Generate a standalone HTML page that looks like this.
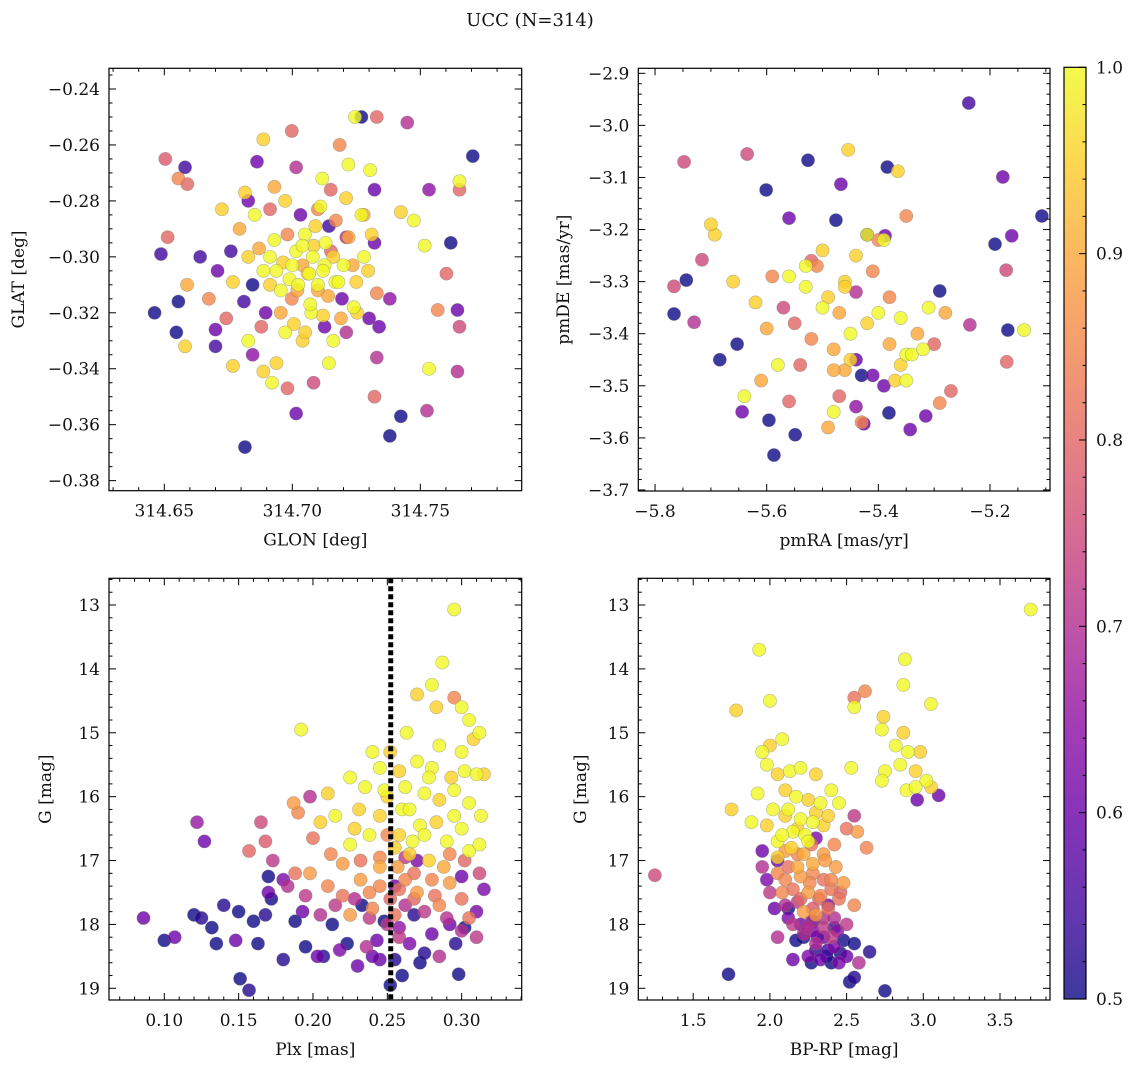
<!DOCTYPE html>
<html><head><meta charset="utf-8"><style>
html,body{margin:0;padding:0;background:#fff;}
svg{display:block;font-family:"DejaVu Serif","Liberation Serif",serif;}
</style></head><body>
<svg id="fig" width="1136" height="1067" viewBox="0 0 1136 1067">
<text x="530" y="26" text-anchor="middle" font-size="18" fill="#111">UCC (N=314)</text>
<defs><linearGradient id="cbg" x1="0" y1="1" x2="0" y2="0">
<stop offset="0" stop-color="#0d0887"/><stop offset="0.1" stop-color="#41049d"/><stop offset="0.2" stop-color="#6a00a8"/><stop offset="0.3" stop-color="#8f0da4"/><stop offset="0.4" stop-color="#b12a90"/><stop offset="0.5" stop-color="#cc4778"/><stop offset="0.6" stop-color="#e16462"/><stop offset="0.7" stop-color="#f2844b"/><stop offset="0.8" stop-color="#fca636"/><stop offset="0.9" stop-color="#fcce25"/><stop offset="1" stop-color="#f0f921"/>
</linearGradient></defs>
</svg>
<script>
// ---- Panel 1: GLON / GLAT ----
const p1Glon=[314.6815,314.6462,314.6487,314.6504,314.6513,314.6555,314.6581,314.6555,314.6590,314.6547,314.6581,314.6700,314.6700,314.6815,314.6862,314.6887,314.6998,314.7245,314.7270,314.7330,314.7449,314.7705,314.7653,314.7653,314.7619,314.7534,314.7568,314.7645,314.7653,314.7645,314.7526,314.7424,314.7381,314.7534,314.7330,314.7321,314.7015,314.6981,314.6921,314.6845,314.6887,314.6768,314.7602,314.7517,314.7475,314.7424,314.7304,314.7321,314.7185,314.7219,
314.6913,314.6938,314.6964,314.6989,314.7015,314.7040,314.6955,314.6998,314.6913,314.6887,314.6870,314.7023,314.7066,314.7083,314.7049,314.6981,314.6930,314.7100,314.7126,314.7151,314.7168,314.7074,314.7006,314.6955,314.6896,314.6845,314.6828,314.6811,314.6768,314.6760,314.6794,314.6853,314.6913,314.6972,314.7032,314.7100,314.7143,314.7211,314.7236,314.7194,314.7253,314.7211,314.7126,314.7040,314.6972,314.6879,314.6828,314.6742,314.6708,314.6674,314.7296,314.7321,314.7279,314.7117,314.7015,314.6930,314.6828,314.6725,314.7143,314.6938,314.7083,314.7381,314.7339,314.6589,314.6640,
314.708,314.712,314.716,314.710,314.714,314.718,314.706,314.704,314.720,314.722,314.713,314.709,314.717,314.725,314.724,314.719,314.712,314.707,314.702,314.700,314.728,314.731,314.727,314.721,314.715,314.711,314.733,314.730,314.705,314.716];
const p1Glat=[-0.368,-0.320,-0.299,-0.265,-0.293,-0.316,-0.268,-0.272,-0.274,-0.327,-0.332,-0.332,-0.326,-0.277,-0.266,-0.258,-0.255,-0.250,-0.250,-0.250,-0.252,-0.264,-0.273,-0.276,-0.295,-0.276,-0.319,-0.319,-0.325,-0.341,-0.355,-0.357,-0.364,-0.340,-0.336,-0.350,-0.356,-0.347,-0.345,-0.335,-0.341,-0.339,-0.306,-0.296,-0.287,-0.284,-0.269,-0.276,-0.260,-0.267,
-0.300,-0.305,-0.302,-0.308,-0.298,-0.303,-0.312,-0.315,-0.310,-0.305,-0.297,-0.310,-0.306,-0.296,-0.292,-0.292,-0.294,-0.312,-0.303,-0.298,-0.309,-0.320,-0.324,-0.320,-0.320,-0.310,-0.300,-0.316,-0.309,-0.298,-0.290,-0.285,-0.283,-0.280,-0.285,-0.283,-0.289,-0.293,-0.303,-0.315,-0.320,-0.327,-0.325,-0.330,-0.327,-0.325,-0.330,-0.322,-0.305,-0.315,-0.305,-0.295,-0.285,-0.272,-0.268,-0.275,-0.280,-0.283,-0.338,-0.338,-0.345,-0.315,-0.325,-0.310,-0.300,
-0.300,-0.305,-0.300,-0.310,-0.314,-0.309,-0.306,-0.296,-0.303,-0.293,-0.295,-0.289,-0.287,-0.309,-0.318,-0.322,-0.321,-0.317,-0.312,-0.303,-0.300,-0.292,-0.285,-0.279,-0.276,-0.282,-0.313,-0.322,-0.327,-0.330];
const p1Prob=[0.5,0.5,0.55,0.78,0.8,0.5,0.55,0.85,0.8,0.5,0.95,0.55,0.6,0.95,0.6,0.95,0.8,1.0,0.5,0.8,0.7,0.5,1.0,0.8,0.5,0.65,0.85,0.6,0.75,0.7,0.7,0.5,0.5,1.0,0.7,0.8,0.6,0.8,1.0,0.65,0.95,0.95,0.8,1.0,1.0,0.95,1.0,0.6,0.85,1.0,
1,1,0.95,1,1,0.9,1,0.85,0.95,1,0.9,1,1,0.95,1,0.85,1,0.9,1,0.8,1,1,0.95,0.9,0.6,0.5,0.95,0.55,0.95,0.55,0.9,1,0.8,0.95,0.6,0.85,0.55,0.7,0.9,0.6,0.95,0.7,0.6,0.95,1,0.8,1,0.8,0.6,0.85,0.95,0.6,0.9,1,0.7,0.9,0.6,0.95,1,0.95,0.75,0.65,0.6,0.9,0.55,
1,1,0.95,1,0.9,1,0.95,1,1,0.9,1,0.95,0.85,0.95,1,0.9,0.95,1,0.9,1,1,0.95,1,0.95,0.8,1,0.85,0.6,0.95,1];

// ---- Panel 2: pmRA / pmDE ----
const p2PmRA=[-5.238,-5.748,-5.766,-5.744,-5.766,-5.730,-5.693,-5.716,-5.635,-5.653,-5.684,-5.587,-5.596,-5.644,-5.549,-5.381,-5.426,-5.343,-5.315,-5.290,-5.177,-5.107,-5.161,-5.171,-5.191,-5.170,-5.168,-5.139,-5.236,-5.290,-5.526,-5.601,-5.384,-5.365,-5.388,-5.467,-5.454,-5.560,-5.476,-5.350,
-5.45,-5.42,-5.48,-5.40,-5.52,-5.44,-5.50,-5.38,-5.46,-5.55,-5.35,-5.43,-5.49,-5.41,-5.58,-5.33,-5.47,-5.53,-5.39,-5.44,-5.51,-5.36,-5.62,-5.30,-5.46,-5.56,-5.42,-5.48,-5.40,-5.60,-5.34,-5.52,-5.37,-5.44,-5.64,-5.28,-5.50,-5.43,-5.57,-5.32,-5.47,-5.39,-5.54,-5.45,-5.41,-5.59,-5.35,-5.49,-5.66,-5.27,-5.53,-5.38,-5.46,-5.61,-5.31,-5.44,-5.48,-5.42,-5.56,-5.36,-5.70,-5.25,-5.51,-5.40,-5.47];
const p2PmDE=[-2.957,-3.070,-3.309,-3.297,-3.362,-3.378,-3.210,-3.258,-3.055,-3.420,-3.450,-3.633,-3.566,-3.550,-3.594,-3.552,-3.573,-3.584,-3.558,-3.318,-3.099,-3.174,-3.212,-3.278,-3.228,-3.454,-3.393,-3.393,-3.383,-3.533,-3.067,-3.124,-3.080,-3.088,-3.212,-3.113,-3.047,-3.178,-3.182,-3.174,
-3.40,-3.38,-3.43,-3.36,-3.41,-3.45,-3.35,-3.42,-3.30,-3.38,-3.44,-3.48,-3.33,-3.28,-3.46,-3.40,-3.52,-3.31,-3.50,-3.25,-3.27,-3.37,-3.34,-3.42,-3.47,-3.29,-3.21,-3.55,-3.22,-3.39,-3.44,-3.26,-3.49,-3.32,-3.52,-3.36,-3.24,-3.57,-3.35,-3.43,-3.36,-3.22,-3.46,-3.45,-3.48,-3.29,-3.49,-3.58,-3.30,-3.51,-3.27,-3.33,-3.31,-3.49,-3.35,-3.54,-3.47,-3.21,-3.53,-3.46,-3.19];
const p2Prob=[0.55,0.75,0.75,0.5,0.5,0.7,0.95,0.75,0.75,0.5,0.5,0.5,0.5,0.6,0.5,0.5,0.6,0.6,0.6,0.5,0.6,0.5,0.6,0.75,0.5,0.8,0.5,1.0,0.7,0.85,0.5,0.5,0.5,0.95,0.6,0.6,0.95,0.6,0.5,0.85,
1,0.95,0.9,1,0.85,0.6,1,0.9,0.95,0.8,1,0.5,0.95,0.85,1,0.9,0.8,1,0.6,0.95,0.85,1,0.95,0.8,0.9,1,0.55,1,0.85,0.9,1,0.8,0.95,0.7,1,0.9,0.95,0.85,0.75,1,0.9,1,0.8,0.95,0.6,0.85,1,0.9,0.95,0.8,1,0.85,0.95,0.9,1,0.65,0.9,1,0.8,0.95,0.95,0.9,1,0.85,0.9];

// ---- Panel 3: Plx / G ----
const p3Plx=[0.295,0.287,0.280,0.270,0.300,0.305,0.312,0.283,0.263,0.252,0.240,0.245,0.258,0.270,0.280,0.293,0.302,0.310,0.315,0.225,0.210,0.192,0.235,0.250,0.262,0.275,0.285,0.295,0.305,0.245,0.260,0.272,0.283,0.300,0.313,0.228,0.215,0.238,0.258,0.290,0.305,0.265,0.225,0.205,0.300,0.285,0.308,0.267,0.278,0.312,
0.187,0.190,0.200,0.212,0.220,0.232,0.245,0.257,0.268,0.280,0.292,0.300,0.285,0.270,0.258,0.245,0.232,0.220,0.210,0.198,0.188,0.165,0.168,0.157,0.240,0.255,0.295,0.225,0.305,0.250,
0.173,0.183,0.195,0.205,0.215,0.228,0.238,0.262,0.275,0.290,0.310,0.300,0.250,0.236,0.258,0.285,0.198,0.122,0.262,
0.127,0.170,0.180,0.193,0.203,0.218,0.230,0.245,0.265,0.280,0.292,0.310,0.086,0.107,0.148,0.270,0.300,0.315,0.255,0.243,
0.100,0.120,0.125,0.132,0.135,0.140,0.150,0.151,0.157,0.160,0.163,0.168,0.172,0.170,0.180,0.188,0.195,0.207,0.213,0.223,0.255,0.260,0.252,0.296,0.298,0.302,0.268,0.248,0.233,0.275,
0.245,0.255,0.262,0.275,0.288,0.295,0.238,0.252,0.268,0.282,0.231,0.248,0.265,0.278,0.292,0.302,0.312,0.258,0.240,0.272];
const p3G=[13.07,13.9,14.25,14.4,14.6,14.8,15.0,14.6,15.0,15.3,15.3,15.55,15.6,15.45,15.55,15.7,15.6,15.65,15.65,15.7,15.95,14.95,15.85,16.0,15.85,15.95,16.05,15.9,16.1,16.3,16.2,16.45,16.4,16.5,16.3,16.5,16.3,16.6,16.6,16.7,16.85,16.9,16.75,16.4,15.3,15.2,15.1,16.7,17.0,16.75,
16.1,16.25,16.65,16.9,17.05,17.0,16.95,17.1,17.2,17.3,17.35,17.6,17.7,17.5,17.45,17.4,17.3,17.55,17.4,17.2,17.2,16.4,16.7,16.85,17.75,17.85,14.45,17.85,17.9,16.6,
17.0,17.4,17.55,17.85,17.7,17.6,17.9,17.7,17.8,17.9,18.2,18.1,18.0,18.35,18.2,18.5,16.0,16.4,16.95,
16.7,17.5,17.3,17.8,18.5,18.4,18.65,18.55,18.3,18.15,18.0,17.8,17.9,18.2,18.25,17.0,17.25,17.45,17.4,18.25,
18.25,17.85,17.9,18.05,18.3,17.7,17.8,18.85,19.03,17.95,18.3,17.85,17.6,17.25,18.55,17.95,18.35,18.5,18.0,18.3,18.55,18.8,18.95,18.3,18.78,18.05,17.85,17.95,17.7,18.45,
17.1,16.8,17.3,16.6,17.1,16.3,17.5,17.6,17.6,17.55,16.2,15.9,16.2,15.7,16.9,17.0,17.2,18.05,18.5,18.6];
const p3Prob=[1,1,1,0.95,1,1,1,0.95,1,0.95,1,1,0.95,1,1,0.95,1,1,0.95,1,0.95,1,1,0.95,1,1,0.95,1,1,0.95,1,1,0.95,1,1,0.95,1,1,0.95,1,1,0.95,1,0.95,1,1,0.95,1,0.95,1,
0.88,0.85,0.82,0.85,0.88,0.82,0.85,0.88,0.82,0.85,0.88,0.82,0.85,0.88,0.82,0.85,0.88,0.82,0.85,0.88,0.82,0.75,0.78,0.8,0.85,0.82,0.85,0.88,0.82,0.85,
0.72,0.7,0.72,0.7,0.72,0.7,0.72,0.7,0.72,0.7,0.72,0.7,0.72,0.7,0.72,0.7,0.7,0.66,0.72,
0.6,0.6,0.62,0.6,0.6,0.62,0.6,0.6,0.62,0.6,0.6,0.62,0.6,0.6,0.6,0.62,0.6,0.62,0.6,0.6,
0.5,0.5,0.52,0.5,0.5,0.52,0.5,0.5,0.52,0.5,0.5,0.52,0.5,0.5,0.52,0.5,0.5,0.52,0.5,0.5,0.52,0.5,0.5,0.52,0.5,0.5,0.52,0.5,0.5,0.52,
0.9,0.95,0.85,1,0.9,1,0.85,0.8,0.8,0.82,0.95,1,1,1,0.85,0.8,0.75,0.65,0.6,0.5];

// ---- Panel 4: BP-RP / G ----
const p4BpRp=[3.70,1.93,2.88,2.87,1.78,2.00,3.05,2.74,2.55,2.73,2.87,2.82,2.90,2.98,2.85,2.75,2.95,3.02,2.89,3.05,2.73,1.95,2.00,2.08,1.98,2.05,2.13,2.20,2.30,2.40,2.53,2.10,1.92,2.17,2.25,2.33,2.02,2.10,2.20,2.28,1.98,2.15,2.23,2.35,1.88,1.75,2.05,2.45,2.38,2.95,
2.55,2.62,2.10,2.18,2.27,2.35,2.42,2.50,2.57,2.63,2.12,2.20,2.28,2.35,2.43,2.05,2.15,2.25,2.33,2.40,2.48,2.55,2.38,2.22,2.08,2.45,2.30,
1.25,2.00,2.10,2.18,2.27,2.35,2.42,2.50,2.22,2.15,2.30,2.40,1.95,2.55,2.05,2.58,
1.95,1.98,2.03,2.12,2.20,2.28,2.35,2.42,2.50,2.45,2.33,2.25,2.15,2.38,2.05,2.96,2.30,3.10,
1.73,2.75,2.55,2.52,2.40,2.30,2.22,2.17,2.37,2.48,2.55,2.65,2.28,2.12,2.42,
2.12,2.18,2.25,2.08,2.30,2.14,2.22,2.28,2.18,2.36,2.10,2.26,2.32,2.40,2.20,2.46,2.28,2.35,2.24,2.44,2.31,2.38,2.27,2.46,2.05];
const p4G=[13.07,13.7,13.85,14.25,14.65,14.5,14.55,14.75,14.6,14.95,15.0,15.2,15.3,15.3,15.5,15.6,15.6,15.75,15.9,15.85,15.75,15.3,15.2,15.1,15.5,15.65,15.6,15.55,15.65,15.9,15.55,15.9,15.95,16.0,16.05,16.1,16.2,16.3,16.35,16.4,16.45,16.55,16.6,16.45,16.4,16.2,16.7,16.1,16.3,15.85,
14.45,14.35,16.85,16.9,16.75,16.9,16.75,16.5,16.55,16.8,17.1,17.25,17.2,17.3,17.1,17.2,17.45,17.5,17.55,17.45,17.35,17.7,17.75,17.8,17.5,17.6,17.85,
17.23,17.5,17.7,17.65,17.95,18.05,17.9,18.0,18.15,18.0,18.3,18.2,17.1,16.3,18.2,18.6,
16.85,17.3,17.75,17.9,18.0,18.1,18.2,18.35,18.5,18.6,18.55,18.5,18.55,17.7,17.0,16.05,16.65,15.98,
18.78,19.04,18.83,18.9,18.6,18.4,18.2,18.25,18.5,18.25,18.3,18.43,17.95,17.75,18.05,
16.2,16.5,16.7,16.6,16.25,16.8,16.9,17.05,17.1,17.0,17.3,17.35,17.6,17.3,17.6,17.5,17.75,17.9,18.05,18.1,18.2,18.4,18.6,18.45,16.95];
const p4Prob=[1,1,1,1,0.95,1,1,0.95,1,1,0.95,1,1,0.95,1,1,0.95,1,1,0.95,1,1,0.95,1,1,0.95,1,1,0.95,1,1,0.95,1,1,0.95,1,1,0.95,1,1,0.95,1,1,0.95,1,0.95,1,1,0.95,1,
0.82,0.85,0.88,0.85,0.82,0.88,0.85,0.82,0.88,0.85,0.82,0.88,0.85,0.82,0.88,0.85,0.82,0.88,0.85,0.82,0.88,0.85,0.82,0.88,0.85,0.82,0.88,
0.75,0.72,0.7,0.72,0.7,0.72,0.7,0.72,0.7,0.72,0.7,0.72,0.7,0.72,0.7,0.7,
0.6,0.62,0.6,0.62,0.6,0.62,0.6,0.62,0.6,0.62,0.6,0.62,0.6,0.62,0.6,0.6,0.62,0.6,
0.5,0.5,0.52,0.5,0.5,0.52,0.5,0.5,0.52,0.5,0.5,0.52,0.5,0.5,0.52,
1,0.95,1,1,0.95,0.95,0.9,0.9,0.9,0.88,0.85,0.85,0.8,0.85,0.8,0.8,0.78,0.7,0.7,0.65,0.6,0.55,0.5,0.5,0.95];

const plxCut=[0.2523];
const cbTicks=[0.5,0.6,0.7,0.8,0.9,1.0];

const NS='http://www.w3.org/2000/svg';
const svg=document.getElementById('fig');
function mk(tag,attrs,parent){const e=document.createElementNS(NS,tag);for(const k in attrs)e.setAttribute(k,attrs[k]);(parent||svg).appendChild(e);return e;}
const stops=['#0d0887','#41049d','#6a00a8','#8f0da4','#b12a90','#cc4778','#e16462','#f2844b','#fca636','#fcce25','#f0f921'];
function hex(h){return [parseInt(h.slice(1,3),16),parseInt(h.slice(3,5),16),parseInt(h.slice(5,7),16)];}
function cmap(p){let t=Math.max(0,Math.min(1,(p-0.5)/0.5))*10;const i=Math.min(9,Math.floor(t)),f=t-i;const a=hex(stops[i]),b=hex(stops[i+1]);return 'rgb('+a.map((v,k)=>Math.round(v+(b[k]-v)*f)).join(',')+')';}

function panel(o){
  const g=mk('g',{});
  
  
  const sx=v=>o.x0+(v-o.xd[0])/(o.xd[1]-o.xd[0])*(o.x1-o.x0);
  const sy=v=>o.y0+(v-o.yd[0])/(o.yd[1]-o.yd[0])*(o.y1-o.y0);
  const n=Math.min(o.xs.length,o.ys.length,o.ps.length);
  const idx=[];for(let i=0;i<n;i++)if(isFinite(o.xs[i])&&isFinite(o.ys[i])&&isFinite(o.ps[i]))idx.push(i);
  idx.sort((a,b)=>o.ps[a]-o.ps[b]);
  const pg=mk('g',{},g);
  for(const i of idx){
    const c=mk('circle',{cx:sx(o.xs[i]),cy:sy(o.ys[i]),r:6.6,fill:cmap(o.ps[i]),'fill-opacity':0.8,stroke:'#777','stroke-opacity':0.5,'stroke-width':0.6},pg);
    
    
  }
  if(o.extra)o.extra(g,sx,sy);
  const tk=mk('g',{stroke:'#000','stroke-width':1},g);
  function ticks(d,step,sub,axis){
    const lo=Math.min(d[0],d[1]),hi=Math.max(d[0],d[1]);const ms=step/sub;
    for(let k=Math.ceil(lo/ms-1e-6);k*ms<=hi+1e-9;k++){
      const v=k*ms;const major=Math.abs(Math.round(k/sub)*sub-k)<1e-6;const L=major?7:3.5;
      if(axis==='x'){const x=sx(v);mk('line',{x1:x,x2:x,y1:o.y1,y2:o.y1-L},tk);mk('line',{x1:x,x2:x,y1:o.y0,y2:o.y0+L},tk);}
      else{const y=sy(v);mk('line',{x1:o.x0,x2:o.x0+L,y1:y,y2:y},tk);mk('line',{x1:o.x1,x2:o.x1-L,y1:y,y2:y},tk);}
    }
  }
  ticks(o.xd,o.xstep,o.xsub,'x');ticks(o.yd,o.ystep,o.ysub,'y');
  const fr=mk('rect',{x:o.x0,y:o.y0,width:o.x1-o.x0,height:o.y1-o.y0,fill:'none',stroke:'#000','stroke-width':1.2},g);
  
  
  for(const v of o.xt){const t=mk('text',{x:sx(v),y:o.y1+26,'text-anchor':'middle','font-size':17,fill:'#111'},g);t.textContent=o.xf(v);
    
    }
  for(const v of o.yt){const t=mk('text',{x:o.x0-9,y:sy(v)+6,'text-anchor':'end','font-size':17,fill:'#111'},g);t.textContent=o.yf(v);
    
    }
  const xl=mk('text',{x:(o.x0+o.x1)/2,y:o.y1+55,'text-anchor':'middle','font-size':17,fill:'#111'},g);xl.textContent=o.xl;
  
  
  const yl=mk('text',{x:0,y:0,'text-anchor':'middle','font-size':17,fill:'#111',transform:'translate('+o.ylx+','+(o.y0+o.y1)/2+') rotate(-90)'},g);yl.textContent=o.yl;
  
  
}
const minus=s=>s.replace('-','\u2212');
panel({name:'glon-glat-panel',xs:p1Glon,ys:p1Glat,ps:p1Prob,x0:109,x1:521.7,y0:68.3,y1:490.7,xd:[314.6284,314.7896],yd:[-0.2326,-0.3836],
  xstep:0.05,xsub:5,ystep:0.02,ysub:4,xt:[314.65,314.70,314.75],yt:[-0.24,-0.26,-0.28,-0.30,-0.32,-0.34,-0.36,-0.38],
  xf:v=>v.toFixed(2),yf:v=>minus(v.toFixed(2)),xl:'GLON [deg]',yl:'GLAT [deg]',ylx:24});
panel({name:'pm-panel',xs:p2PmRA,ys:p2PmDE,ps:p2Prob,x0:638.3,x1:1050,y0:68.3,y1:491,xd:[-5.830,-5.0925],yd:[-2.8904,-3.702],
  xstep:0.2,xsub:4,ystep:0.1,ysub:5,xt:[-5.8,-5.6,-5.4,-5.2],yt:[-2.9,-3.0,-3.1,-3.2,-3.3,-3.4,-3.5,-3.6,-3.7],
  xf:v=>minus(v.toFixed(1)),yf:v=>minus(v.toFixed(1)),xl:'pmRA [mas/yr]',yl:'pmDE [mas/yr]',ylx:569});
panel({name:'plx-g-panel',xs:p3Plx,ys:p3G,ps:p3Prob,x0:109,x1:521.7,y0:578.3,y1:1000,xd:[0.0628,0.3404],yd:[12.582,19.183],
  xstep:0.05,xsub:5,ystep:1,ysub:5,xt:[0.10,0.15,0.20,0.25,0.30],yt:[13,14,15,16,17,18,19],
  xf:v=>v.toFixed(2),yf:v=>String(v),xl:'Plx [mas]',yl:'G [mag]',ylx:51,
  extra:(g,sx,sy)=>{for(const c of plxCut){const l=mk('line',{x1:sx(c),x2:sx(c),y1:578.3,y2:1000,stroke:'#000','stroke-width':5,'stroke-dasharray':'5,3'},g);
    
    }}});
panel({name:'cmd-panel',xs:p4BpRp,ys:p4G,ps:p4Prob,x0:638.3,x1:1050,y0:578.3,y1:1000,xd:[1.142,3.826],yd:[12.582,19.183],
  xstep:0.5,xsub:5,ystep:1,ysub:5,xt:[1.5,2.0,2.5,3.0,3.5],yt:[13,14,15,16,17,18,19],
  xf:v=>v.toFixed(1),yf:v=>String(v),xl:'BP-RP [mag]',yl:'G [mag]',ylx:586});

const cb=mk('g',{});


const cy0=67.3,cy1=999,cx0=1064,cx1=1086;
mk('rect',{x:cx0,y:cy0,width:cx1-cx0,height:cy1-cy0,fill:'url(#cbg)','fill-opacity':0.8},cb);
mk('rect',{x:cx0,y:cy0,width:cx1-cx0,height:cy1-cy0,fill:'none',stroke:'#000','stroke-width':1.2},cb);
const cyv=v=>cy1-(v-0.5)/0.5*(cy1-cy0);
for(let k=25;k<=50;k++){const v=k*0.02;const y=cyv(v);const major=k%5===0;mk('line',{x1:cx1,x2:cx1-(major?7:3.5),y1:y,y2:y,stroke:'#000'},cb);}
for(const v of cbTicks){const t=mk('text',{x:1096,y:cyv(v)+6,'font-size':17,fill:'#111'},cb);t.textContent=v.toFixed(1);
  
  }
</script>
</body></html>
